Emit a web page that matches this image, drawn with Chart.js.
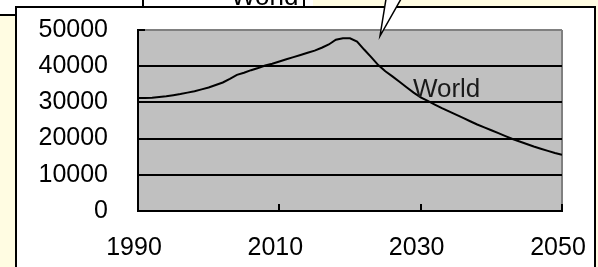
<!DOCTYPE html>
<html><head><meta charset="utf-8">
<script src="https://cdn.jsdelivr.net/npm/chart.js@4.4.1/dist/chart.umd.min.js"></script>
<style>html,body{margin:0;padding:0;background:#FFFCE2;overflow:hidden}
#wrap{position:relative;width:598px;height:267px}</style>
</head><body><div id="wrap"><canvas id="c" width="598" height="267"></canvas></div>
<script>
const years = [1990,1991,1992,1993,1994,1995,1996,1997,1998,1999,
  2000,2001,2002,2003,2004,2005,2006,2007,2008,2009,
  2010,2011,2012,2013,2014,2015,2016,2017,2018,2019,
  2020,2021,2022,2023,2024,2025,2026,2027,2028,2029,
  2030,2031,2032,2033,2034,2035,2036,2037,2038,2039,
  2040,2041,2042,2043,2044,2045,2046,2047,2048,2049,2050];
const worldValues = [31200,31200,31300,31500,31700,32000,32300,32700,33100,33600,
  34100,34800,35500,36500,37600,38200,38900,39500,40200,40700,
  41300,41900,42500,43100,43700,44300,45100,46000,47300,47700,
  47700,46800,44600,42500,40300,38600,37200,35700,34200,32700,
  31400,30400,29400,28400,27500,26600,25700,24800,23900,23100,
  22300,21500,20700,19900,19200,18500,17800,17200,16600,16000,15500];
const seriesName = 'World';
const calloutTitle = 'World';
const xMin = 1990, xMax = 2050, xStep = 20;
const yMin = 0, yMax = 50000, yStep = 10000;
const seriesLabelAt = {x: 2028.9, y: 31500};

const FONT = '"Liberation Sans", Arial, sans-serif';

const decor = {
  id: 'decor',
  beforeDraw(chart) {
    const ctx = chart.ctx, a = chart.chartArea;
    ctx.save();
    ctx.fillStyle = '#FFFCE2'; ctx.fillRect(0, 0, 598, 267);
    ctx.fillStyle = '#fff';
    ctx.fillRect(0, 0, 143, 15);
    ctx.fillRect(143, 0, 170, 7);
    ctx.strokeStyle = '#000'; ctx.lineWidth = 2;
    ctx.beginPath();
    ctx.moveTo(0, 15); ctx.lineTo(16, 15);
    ctx.moveTo(143, 0); ctx.lineTo(143, 7);
    ctx.moveTo(304, 0); ctx.lineTo(304, 7);
    ctx.stroke();
    ctx.fillStyle = '#000'; ctx.font = '26px ' + FONT; ctx.textBaseline = 'alphabetic';
    ctx.fillText(calloutTitle, 231, 5);
    ctx.fillStyle = '#fff'; ctx.fillRect(16, 7, 579, 270);
    ctx.strokeRect(16, 7, 579, 270);
    ctx.fillStyle = '#C0C0C0'; ctx.fillRect(a.left, a.top, a.right - a.left, a.bottom - a.top);
    ctx.restore();
  },
  afterDraw(chart) {
    const ctx = chart.ctx, a = chart.chartArea;
    const xs = chart.scales.x, ys = chart.scales.y;
    ctx.save();
    ctx.strokeStyle = '#000'; ctx.lineWidth = 2;
    ctx.beginPath();
    xs.ticks.forEach(t => {
      if (t.value === xMin) return;
      const px = Math.round(xs.getPixelForValue(t.value));
      ctx.moveTo(px, a.bottom); ctx.lineTo(px, a.bottom - 7);
    });
    ys.ticks.forEach(t => {
      const py = Math.round(ys.getPixelForValue(t.value));
      ctx.moveTo(a.left, py); ctx.lineTo(a.left + 7, py);
    });
    ctx.stroke();
    ctx.fillStyle = '#1a1a1a'; ctx.font = '26px ' + FONT; ctx.textBaseline = 'alphabetic'; ctx.textAlign = 'left';
    ctx.fillText(seriesName, xs.getPixelForValue(seriesLabelAt.x), ys.getPixelForValue(seriesLabelAt.y));
    ctx.fillStyle = '#fff';
    ctx.beginPath(); ctx.moveTo(386, -1); ctx.lineTo(380, 36); ctx.lineTo(401, -1); ctx.closePath(); ctx.fill();
    ctx.lineWidth = 1.5;
    ctx.beginPath(); ctx.moveTo(386, -1); ctx.lineTo(380, 36); ctx.lineTo(401, -1); ctx.stroke();
    ctx.restore();
  }
};

new Chart(document.getElementById('c'), {
  type: 'line',
  data: {
    datasets: [{
      label: seriesName,
      data: years.map((y, i) => ({x: y, y: worldValues[i]})),
      borderColor: '#000', borderWidth: 2, pointRadius: 0, tension: 0, fill: false
    }]
  },
  options: {
    responsive: false, animation: false, devicePixelRatio: 1,
    layout: {padding: {top: 30, right: 36, left: 0, bottom: 0}},
    plugins: {legend: {display: false}, tooltip: {enabled: false}},
    scales: {
      x: {
        type: 'linear', min: xMin, max: xMax,
        ticks: {stepSize: xStep, color: '#000', font: {family: FONT, size: 25}, padding: 22, labelOffset: -4, maxRotation: 0,
          callback: v => String(v)},
        grid: {drawTicks: false, lineWidth: 2, color: c => (c.tick && c.tick.value === xMax) ? '#808080' : 'rgba(0,0,0,0)'},
        border: {color: '#000', width: 2},
        afterFit: s => { s.height = 56; s.paddingLeft = 0; s.paddingRight = 0; s.paddingTop = 0; s.paddingBottom = 0; }
      },
      y: {
        min: yMin, max: yMax,
        ticks: {stepSize: yStep, color: '#000', font: {family: FONT, size: 25}, padding: 30,
          callback: v => String(v)},
        grid: {drawTicks: false, lineWidth: 2, color: c => (c.tick && c.tick.value === yMax) ? '#808080' : '#000'},
        border: {color: '#000', width: 2},
        afterFit: s => { s.width = 138; s.paddingLeft = 0; s.paddingRight = 0; s.paddingTop = 0; s.paddingBottom = 0; }
      }
    }
  },
  plugins: [decor]
});
</script></body></html>
